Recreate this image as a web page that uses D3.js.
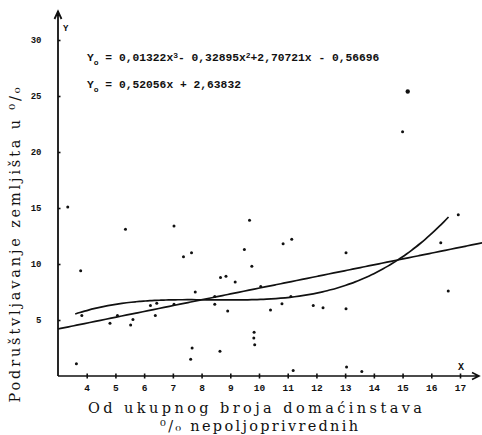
<!DOCTYPE html>
<html>
<head>
<meta charset="utf-8">
<script src="https://cdn.jsdelivr.net/npm/d3@7"></script>
<style>
  body { margin: 0; background: #fff; }
  svg { display: block; }
  .tick text { font-family: "Liberation Mono", "DejaVu Sans Mono", monospace; font-weight: bold; fill: #111; }
</style>
</head>
<body>
<svg id="chart"></svg>
<script>
/*************** data *****************/
// observations read off the scan: % non-agricultural households (x) vs % land socialisation (y)
var xValues = [3.34, 3.79, 5.35, 7.04, 7.37, 7.65, 7.78, 3.83, 4.81, 5.07, 5.53, 5.61,
               6.22, 6.44, 6.39, 7.04, 3.64, 7.67, 7.62,
               9.67, 9.49, 9.75, 8.66, 8.85, 9.17, 10.06, 10.84, 11.14, 8.46, 8.46, 8.91,
               10.40, 10.80, 11.11, 11.89, 12.23, 9.83, 9.82, 9.85, 8.64, 11.19,
               15.18, 15.00, 16.94, 16.33, 13.03, 16.59, 13.03, 13.05, 13.58];
var yValues = [15.1, 9.4, 13.1, 13.4, 10.65, 11.0, 7.5, 5.4, 4.7, 5.4, 4.55, 5.05,
               6.3, 6.5, 5.4, 6.4, 1.1, 2.5, 1.5,
               13.9, 11.3, 9.8, 8.8, 8.9, 8.4, 8.0, 11.8, 12.2, 7.1, 6.4, 5.8,
               5.9, 6.45, 7.1, 6.3, 6.1, 3.9, 3.4, 2.8, 2.2, 0.5,
               25.4, 21.8, 14.4, 11.9, 11.0, 7.6, 6.0, 0.8, 0.4];

// regression coefficients printed on the chart (highest power first)
var cubicCoef = [0.01322, -0.32895, 2.70721, -0.56696];
var linearCoef = [0.52056, 2.63832];
var cubicRange = [3.6, 16.6];
var linearRange = [3, 17.78];

var xTicks = [4, 5, 6, 7, 8, 9, 10, 11, 12, 13, 14, 15, 16, 17];
var yTicks = [5, 10, 15, 20, 25, 30];

/*************** settings *****************/
var width = 482, height = 435;
var ink = "#111";

var svg = d3.select("#chart").attr("width", width).attr("height", height);
svg.append("rect").attr("width", width).attr("height", height).attr("fill", "#fff");

var x = d3.scaleLinear().domain([3, 17]).range([58, 460]);
var y = d3.scaleLinear().domain([0, 30]).range([376, 40]);

/*************** axes *****************/
var xAxis = svg.append("g")
  .attr("transform", "translate(0," + y(0) + ")")
  .call(d3.axisBottom(x).tickValues(xTicks).tickSize(2.5).tickPadding(6).tickFormat(d3.format("d")));
xAxis.select(".domain").remove();
xAxis.selectAll(".tick line").attr("y1", -2.5).attr("stroke", ink).attr("stroke-width", 1.6);
xAxis.selectAll(".tick text").attr("font-size", 9.5);

var yAxis = svg.append("g")
  .attr("transform", "translate(" + x(3) + ",0)")
  .call(d3.axisLeft(y).tickValues(yTicks).tickSize(2.5).tickPadding(14).tickFormat(d3.format("d")));
yAxis.select(".domain").remove();
yAxis.selectAll(".tick line").attr("x2", 2.5).attr("stroke", ink).attr("stroke-width", 1.6);
yAxis.selectAll(".tick text").attr("font-size", 9);

// axis lines with open arrow heads
svg.append("path")
  .attr("d", "M" + x(3) + "," + y(0) + "H478 M472,372.5 L479," + y(0) + " L472,379.5")
  .attr("fill", "none").attr("stroke", ink).attr("stroke-width", 1.6);
svg.append("path")
  .attr("d", "M" + x(3) + "," + y(0) + "V12 M54.5,19 L" + x(3) + ",11.5 L61.5,19")
  .attr("fill", "none").attr("stroke", ink).attr("stroke-width", 1.8);

svg.append("text").attr("x", 63).attr("y", 31).text("Y")
  .attr("font-family", "Liberation Mono, monospace").attr("font-weight", "bold")
  .attr("font-size", 9).attr("fill", ink);
svg.append("text").attr("x", 458).attr("y", 370).text("X")
  .attr("font-family", "Liberation Mono, monospace").attr("font-weight", "bold")
  .attr("font-size", 10).attr("fill", ink);

/*************** regression curves *****************/
function poly(coef) {
  return function(v) { return coef.reduce(function(acc, c) { return acc * v + c; }, 0); };
}
var line = d3.line().x(function(d) { return x(d[0]); }).y(function(d) { return y(d[1]); })
  .curve(d3.curveMonotoneX);

function curveData(coef, range) {
  var f = poly(coef);
  return d3.range(range[0], range[1] + 0.001, (range[1] - range[0]) / 80)
    .map(function(v) { return [v, f(v)]; });
}

svg.append("path").datum(curveData(linearCoef, linearRange))
  .attr("d", line).attr("fill", "none").attr("stroke", ink).attr("stroke-width", 1.7);
svg.append("path").datum(curveData(cubicCoef, cubicRange))
  .attr("d", line).attr("fill", "none").attr("stroke", ink).attr("stroke-width", 1.7);

/*************** points *****************/
svg.append("g").selectAll("circle")
  .data(d3.zip(xValues, yValues))
  .enter().append("circle")
    .attr("cx", function(d) { return x(d[0]); })
    .attr("cy", function(d) { return y(d[1]); })
    .attr("r", function(d) { return d[1] > 25 ? 2.2 : 1.5; })
    .attr("fill", ink);

/*************** equations *****************/
var eqFont = "Liberation Mono, DejaVu Sans Mono, monospace";
function equation(parts, px, py) {
  var t = svg.append("text").attr("x", px).attr("y", py)
    .attr("font-family", eqFont).attr("font-weight", "bold")
    .attr("font-size", 11.3).attr("fill", ink);
  var shift = 0;
  parts.forEach(function(p) {
    var dy = p[1] * 3.5 - shift;
    shift = p[1] * 3.5;
    t.append("tspan").attr("dy", dy).attr("font-size", p[1] ? 8 : 11.3)
      .attr("xml:space", "preserve").text(p[0]);
  });
}
equation([["Y", 0], ["o", 1], [" = 0,01322x", 0], ["3", -1], ["- 0,32895x", 0], ["2", -1],
          ["+2,70721x - 0,56696", 0]], 87, 61);
equation([["Y", 0], ["o", 1], [" = 0,52056x + 2,63832", 0]], 87, 88);

/*************** axis titles *****************/
var titleFont = "DejaVu Serif, serif";
function title(txt, px, py, len, rotate) {
  return svg.append("text")
    .attr("transform", "translate(" + px + "," + py + ")" + (rotate ? " rotate(-90)" : ""))
    .attr("x", -len / 2)
    .attr("font-family", titleFont).attr("font-size", 14.5).attr("fill", ink)
    .attr("textLength", len).attr("lengthAdjust", "spacing")
    .text(txt);
}
title("Od ukupnog broja domaćinstava", 255, 413, 334, false);
title("⁰/₀ nepoljoprivrednih", 259, 431, 198, false);
title("Podruštvljavanje zemljišta u ⁰/₀", 20, 245, 315, true);
</script>
</body>
</html>
